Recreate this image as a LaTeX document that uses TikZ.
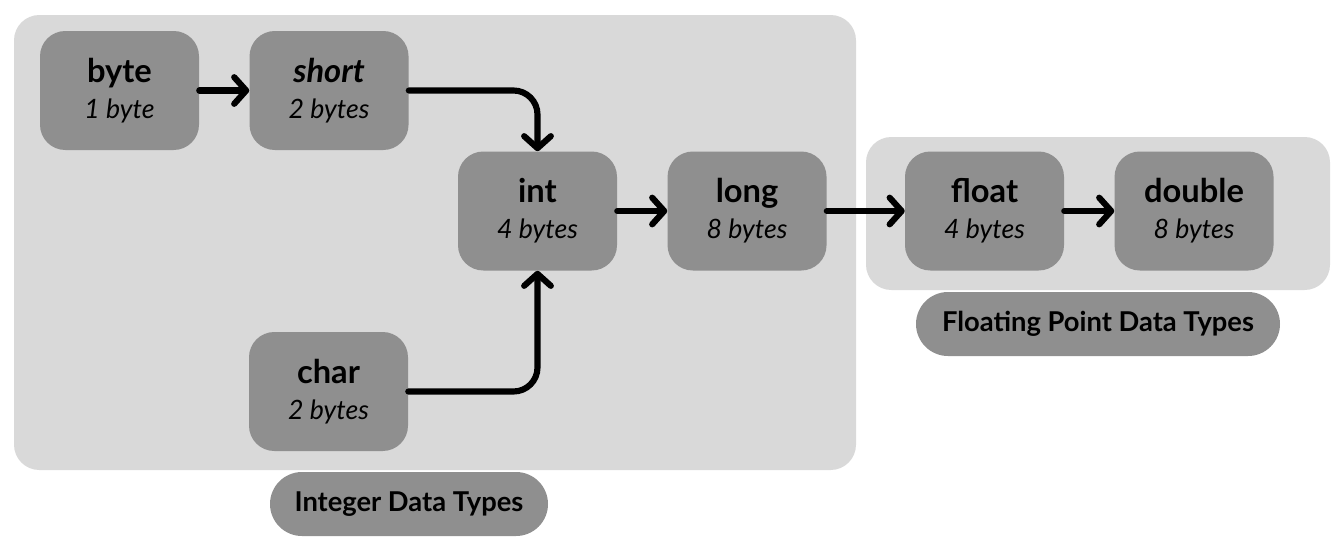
\documentclass[tikz,border=0pt]{standalone}
\usepackage{fontspec}
\setmainfont{Lato}
\usetikzlibrary{arrows.meta,positioning}
\definecolor{panelgrey}{HTML}{D9D9D9}
\definecolor{boxgrey}{HTML}{8F8F8F}

\begin{document}
\begin{tikzpicture}[
  x=0.75pt,
  y=-0.75pt,
  node distance=37.5pt,
  typebox/.style={fill=boxgrey, rounded corners=19pt, align=center,
    minimum width=119.25pt, minimum height=89.25pt, inner sep=0pt,
    font=\fontsize{20}{27}\selectfont},
  tag/.style={fill=boxgrey, rounded corners=24pt, minimum height=48pt,
    inner sep=0pt, font=\fontsize{20.5}{24}\selectfont\bfseries},
  panel/.style={fill=panelgrey, rounded corners=19pt},
  arrow/.style={line width=4.6pt, line cap=round, rounded corners=18pt,
    -{Straight Barb[length=9pt,width=20pt,round]}}
]
\useasboundingbox (0,0) rectangle (1336,547);

% group backgrounds
\fill[panel] (14,15) rectangle (856,470);
\fill[panel] (866,137) rectangle (1330,290);

\node[typebox] (byte) at (119.5,90.5) {{\fontsize{24.5}{27}\selectfont\bfseries byte}\\\itshape 1 byte};
\node[typebox, right=of byte] (short) {{\fontsize{24.5}{27}\selectfont\bfseries\itshape short}\\\itshape 2 bytes};
\node[typebox] (int) at (537.5,211) {{\fontsize{24.5}{27}\selectfont\bfseries int}\\\itshape 4 bytes};
\node[typebox, right=of int] (long) {{\fontsize{24.5}{27}\selectfont\bfseries long}\\\itshape 8 bytes};
\node[typebox] (char) at (328.5,391.5) {{\fontsize{24.5}{27}\selectfont\bfseries char}\\\itshape 2 bytes};
\node[typebox] (float) at (984.5,211) {{\fontsize{24.5}{27}\selectfont\bfseries float}\\\itshape 4 bytes};
\node[typebox, right=of float] (double) {{\fontsize{24.5}{27}\selectfont\bfseries double}\\\itshape 8 bytes};

\node[tag, minimum width=208.5pt] (intlabel) at (409,504) {Integer Data Types};
\node[tag, minimum width=273pt] (floatlabel) at (1098,324) {Floating Point Data Types};

\draw[arrow] (byte) -- (short);
\draw[arrow] (short.east) -| (int.north);
\draw[arrow] (char.east) -| (int.south);
\draw[arrow] (int) -- (long);
\draw[arrow] (long) -- (float);
\draw[arrow] (float) -- (double);
\end{tikzpicture}
\end{document}
